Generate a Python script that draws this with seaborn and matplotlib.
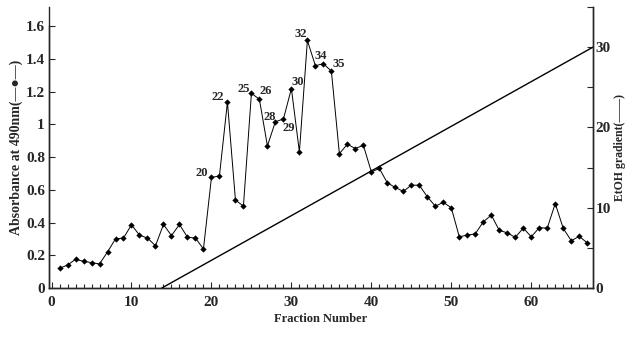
import numpy as np
import pandas as pd
import seaborn as sns
import matplotlib.pyplot as plt
from matplotlib.ticker import MultipleLocator

# Absorbance at 490 nm for fractions 1..67
fractions = list(range(1, 68))
absorbance = [0.12, 0.14, 0.175, 0.163, 0.155, 0.147, 0.22, 0.30, 0.305, 0.386,
              0.323, 0.305, 0.258, 0.388, 0.32, 0.388, 0.31, 0.305, 0.238, 0.675,
              0.685, 1.136, 0.537, 0.50, 1.19, 1.152, 0.868, 1.016, 1.032, 1.218,
              0.831, 1.512, 1.358, 1.37, 1.325, 0.821, 0.878, 0.852, 0.872, 0.709,
              0.73, 0.642, 0.614, 0.59, 0.628, 0.628, 0.557, 0.50, 0.523, 0.49,
              0.313, 0.323, 0.331, 0.404, 0.445, 0.352, 0.337, 0.309, 0.366, 0.313,
              0.368, 0.366, 0.516, 0.364, 0.289, 0.315, 0.276]

# EtOH gradient (linear ramp)
grad_x = [13.8, 67.7]
grad_y = [0, 30]

# peak labels and their text offsets (pixels)
peak_labels = [20, 22, 25, 26, 28, 29, 30, 32, 34, 35]
label_offsets = {20: (-10, 4), 22: (-10, 5), 25: (-8, 4), 26: (6, 8), 28: (-6, 5),
                 29: (5, -9), 30: (6, 7), 32: (-7, 6), 34: (-3, 8), 35: (7, 7)}

df = pd.DataFrame({'fraction': fractions, 'absorbance': absorbance})
df_grad = pd.DataFrame({'fraction': grad_x, 'etoh': grad_y})

sns.set_style('ticks')
plt.rcParams['font.family'] = ['Liberation Serif', 'DejaVu Serif']
plt.rcParams['font.weight'] = 'bold'

fig = plt.figure(figsize=(6.3, 3.38), dpi=100)
ax = fig.add_axes([0.078, 0.148, 0.863, 0.831])
ax2 = ax.twinx()

sns.lineplot(data=df, x='fraction', y='absorbance', ax=ax, color='black',
             linewidth=0.7, marker='D', markersize=3.2, markeredgewidth=0)
sns.lineplot(data=df_grad, x='fraction', y='etoh', ax=ax2, color='black', linewidth=1.0)

for f in peak_labels:
    dx, dy = label_offsets[f]
    ax.annotate(str(f), (f, absorbance[f - 1]), textcoords='offset pixels',
                xytext=(dx, dy), ha='center', va='center', fontsize=9,
                fontweight='bold')

ax.set_xlim(-0.3, 67.7)
ax.set_ylim(0, 1.716)
ax2.set_ylim(0, 35)

ax.set_yticks([0, 0.2, 0.4, 0.6, 0.8, 1.0, 1.2, 1.4, 1.6])
ax.set_yticklabels(['0', '0.2', '0.4', '0.6', '0.8', '1', '1.2', '1.4', '1.6'])
ax.xaxis.set_major_locator(MultipleLocator(10))
ax.xaxis.set_minor_locator(MultipleLocator(1))
ax2.yaxis.set_major_locator(MultipleLocator(10))
ax2.yaxis.set_minor_locator(MultipleLocator(5))

ax.tick_params(axis='both', which='both', direction='in', labelsize=11, width=0.8)
ax.tick_params(axis='x', which='major', length=4, pad=6)
ax.tick_params(axis='x', which='minor', length=3)
ax.tick_params(axis='y', length=4, pad=3)
ax2.tick_params(axis='y', which='both', direction='in', length=4, labelsize=11, width=0.8, pad=2)

for a in (ax, ax2):
    a.spines['top'].set_visible(False)
    for s in a.spines.values():
        s.set_linewidth(1.0)
ax.spines['left'].set_bounds(0, 1.6)

ax.set_xlabel('Fraction Number', fontsize=9, fontweight='bold', labelpad=3)
ax.set_ylabel('Absorbance at 490nm(—●—)', fontsize=10, fontweight='bold', labelpad=2)
ax2.set_ylabel('EtOH gradient(——)', fontsize=8.5, fontweight='bold', rotation=90, va='center')
ax2.yaxis.set_label_coords(1.05, 0.5)

fig.savefig('out.png', dpi=100)
